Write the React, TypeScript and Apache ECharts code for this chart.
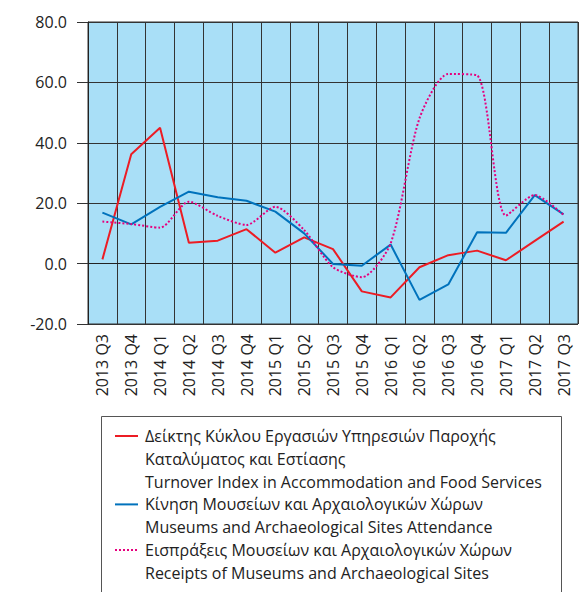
import React, { useEffect, useRef } from "react";
import * as echarts from "echarts";

const categories = [
  "2013 Q3", "2013 Q4", "2014 Q1", "2014 Q2", "2014 Q3", "2014 Q4",
  "2015 Q1", "2015 Q2", "2015 Q3", "2015 Q4", "2016 Q1", "2016 Q2",
  "2016 Q3", "2016 Q4", "2017 Q1", "2017 Q2", "2017 Q3",
];
const turnover = [1.4, 36.2, 45.0, 6.9, 7.6, 11.4, 3.6, 8.7, 4.8, -9.2, -11.2, -1.2, 2.8, 4.3, 1.1, 7.5, 13.9];
const attendance = [16.9, 13.0, 18.8, 23.8, 22.0, 20.8, 17.2, 10.0, -0.1, -0.7, 6.3, -12.0, -6.9, 10.4, 10.2, 22.7, 16.3];
const receipts = [13.9, 13.1, 11.9, 20.5, 15.8, 12.8, 18.8, 11.1, -1.2, -4.5, 6.7, 48.1, 62.8, 62.3, 15.9, 22.7, 16.1];
const yTicks = { min: -20, max: 80, interval: 20 };

const legendItems = [
  { color: "#ec1c24", dash: "solid", lines: ["Δείκτης Κύκλου Εργασιών Υπηρεσιών Παροχής", "Καταλύματος και Εστίασης", "Turnover Index in Accommodation and Food Services"] },
  { color: "#0072bc", dash: "solid", lines: ["Κίνηση Μουσείων και Αρχαιολογικών Χώρων", "Museums and Archaeological Sites Attendance"] },
  { color: "#e6007e", dash: "dotted", lines: ["Εισπράξεις Μουσείων και Αρχαιολογικών Χώρων", "Receipts of Museums and Archaeological Sites"] },
];

const FONT = "'Open Sans', 'Noto Sans', sans-serif";

export default function App() {
  const ref = useRef<HTMLDivElement>(null);
  useEffect(() => {
    const chart = echarts.init(ref.current!, undefined, { renderer: "svg" });
    const graphics: any[] = [
      {
        type: "rect",
        shape: { x: 101.5, y: 416.5, width: 460, height: 200 },
        style: { fill: "#fff", stroke: "#555", lineWidth: 1 },
      },
    ];
    let y = 436;
    const lh = 22.8;
    legendItems.forEach((it) => {
      graphics.push({
        type: "line",
        shape: { x1: 115, y1: y, x2: 138, y2: y },
        style: { stroke: it.color, lineWidth: 2, lineDash: it.dash === "dotted" ? [2, 2] : null },
      });
      it.lines.forEach((t) => {
        graphics.push({
          type: "text",
          x: 145,
          y: y,
          style: { text: t, fill: "#222", font: `16px ${FONT}`, textVerticalAlign: "middle", verticalAlign: "middle" },
        });
        y += lh;
      });
    });
    chart.setOption({
      animation: false,
      grid: {
        left: 88, top: 22, right: 9, bottom: 268,
        show: true, backgroundColor: "#a9dff7", borderColor: "#333", borderWidth: 1,
      },
      xAxis: {
        type: "category",
        data: categories,
        boundaryGap: true,
        axisLine: { show: true, lineStyle: { color: "#222", width: 1 } },
        axisTick: { show: false },
        splitLine: { show: true, lineStyle: { color: "#333", width: 1 } },
        axisLabel: { rotate: 90, interval: 0, margin: 10, color: "#222", fontSize: 16, fontFamily: FONT },
      },
      yAxis: {
        type: "value",
        min: yTicks.min, max: yTicks.max, interval: yTicks.interval,
        axisLine: { show: true, lineStyle: { color: "#222", width: 1 } },
        axisTick: { show: true, length: 11, lineStyle: { color: "#333" } },
        splitLine: { show: true, lineStyle: { color: "#333", width: 1 } },
        axisLabel: { margin: 21, color: "#222", fontSize: 16, fontFamily: FONT, formatter: (v: number) => v.toFixed(1) },
      },
      series: [
        { type: "line", name: "turnover", data: turnover, showSymbol: false, lineStyle: { color: "#ec1c24", width: 2 } },
        { type: "line", name: "attendance", data: attendance, showSymbol: false, lineStyle: { color: "#0072bc", width: 2 } },
        { type: "line", name: "receipts", data: receipts, showSymbol: false, smooth: 0.25, lineStyle: { color: "#e6007e", width: 2, type: [2, 2] } },
      ],
      graphic: graphics,
    });
    return () => chart.dispose();
  }, []);
  return <div ref={ref} style={{ width: 587, height: 592, position: "absolute", left: 0, top: 0 }} />;
}
